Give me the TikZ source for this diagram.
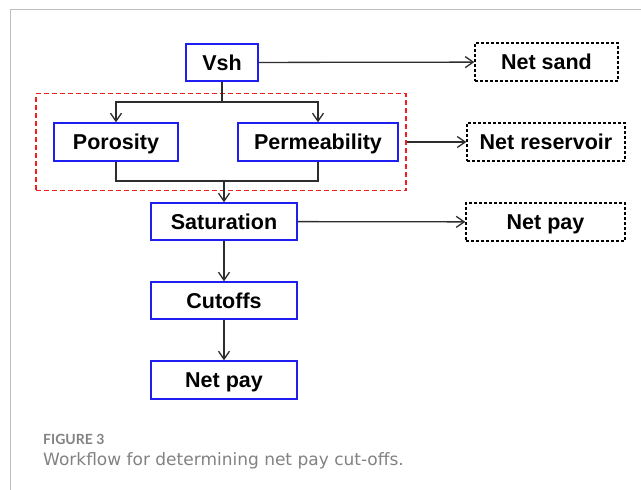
\documentclass[tikz,border=0pt]{standalone}
\usepackage{fontspec}
\setmainfont{Liberation Sans}
\newfontfamily\capfont{Lato}
\newfontfamily\captextfont{DejaVu Sans}
\usepackage{tikz}
\usetikzlibrary{arrows.meta,positioning}
\usepackage{xcolor}
\definecolor{wfblue}{RGB}{30,30,240}
\definecolor{wfred}{RGB}{240,30,30}
\definecolor{wfline}{RGB}{45,45,45}
\definecolor{wfframe}{RGB}{190,190,190}
\definecolor{wfcap}{RGB}{130,130,130}
\tikzstyle{stepbox} = [draw=wfblue,line width=1.4pt,inner sep=0pt,text height=15.4pt,text depth=0pt,font=\bfseries\fontsize{21.5}{24}\selectfont,minimum height=37pt]
\tikzstyle{outbox} = [draw=black,dashed,dash pattern=on 3pt off 2pt,line width=1.3pt,inner sep=0pt,text height=15.4pt,text depth=0pt,font=\bfseries\fontsize{21.5}{24}\selectfont,minimum height=38pt]
\tikzstyle{link} = [line width=1.3pt,color=wfline,-{Straight Barb[length=8pt,width=11pt,line width=1.3pt]}]
\tikzstyle{wire} = [line width=1.3pt,color=wfline]

\begin{document}
\begin{tikzpicture}[x=1pt,y=-1pt]
\useasboundingbox (0,0) rectangle (641,490);
% Frame
\draw[wfframe,line width=1pt] (10,490) -- (10,9) -- (641,9);

% Workflow boxes
\node[stepbox, minimum width=72pt] (vsh) at (222,62.5) {Vsh};
\node[stepbox, minimum width=124pt, minimum height=38pt] (poro) at (116,142) {Porosity};
\node[stepbox, minimum width=160pt, minimum height=38pt] (perm) at (318,142) {Permeability};
\node[stepbox, minimum width=146pt] (sat) at (224,221.5) {Saturation};
\node[stepbox, minimum width=146pt] (cut) at (224,300.5) {Cutoffs};
\node[stepbox, minimum width=146pt, minimum height=38pt] (pay) at (224,380) {Net pay};

% Red group
\node[draw=wfred,dashed,dash pattern=on 5pt off 3pt,line width=1.3pt,minimum width=370pt,minimum height=97pt] (zone) at (221,142) {};

% Outputs
\node[outbox, minimum width=143pt] (sand) at (546.5,62) {Net sand};
\node[outbox, minimum width=158pt] (res) at (546,142) {Net reservoir};
\node[outbox, minimum width=159pt] (netpay) at (545.5,222) {Net pay};

% Connectors
\coordinate (split) at (222,102);
\coordinate (join) at (224,181);
\draw[wire] (vsh) -- (split);
\draw[link] (split) -| (poro);
\draw[link] (split) -| (perm);
\draw[wire] (poro) |- (join) -| (perm);
\draw[link] (join) -- (sat);
\draw[link] (sat) -- (cut);
\draw[link] (cut) -- (pay);
\draw[link] (vsh) -- (sand);
\draw[link] (zone) -- (res);
\draw[link] (sat) -- (netpay);

% Caption
\node[anchor=base west, inner sep=0pt, text=wfcap, font=\capfont\bfseries\fontsize{14}{16}\selectfont] (fig) at (43,444) {FIGURE 3};
\node[anchor=base west, inner sep=0pt, text=wfcap, font=\captextfont\fontsize{17}{20}\selectfont] (cap) at (43,465) {Workflow for determining net pay cut-offs.};
\end{tikzpicture}
\end{document}
